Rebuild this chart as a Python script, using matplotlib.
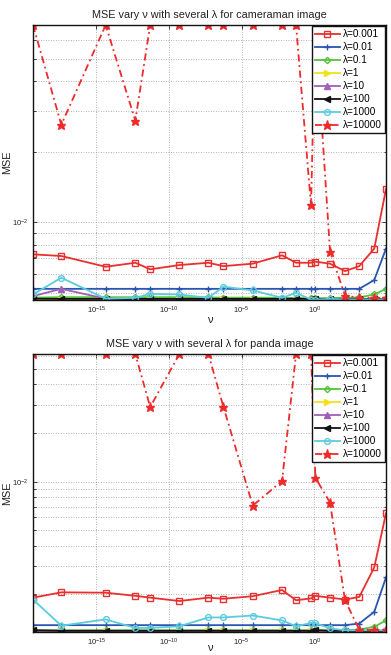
"""
MSE vs nu for several lambda values (cameraman / panda), two stacked log-log panels.
"""

import matplotlib
matplotlib.use("Agg")
import matplotlib.pyplot as plt
from matplotlib.ticker import LogLocator, NullFormatter, NullLocator, FixedLocator

plt.rcParams["font.family"] = ["Liberation Sans", "DejaVu Sans"]
plt.rcParams["mathtext.fontset"] = "custom"
plt.rcParams["mathtext.rm"] = "Liberation Sans"
plt.rcParams["mathtext.it"] = "Liberation Sans:italic"

# ===== Data =====
NU = [4.4e-20, 3.9e-18, 4.4e-15, 4.8e-13, 5.1e-12, 5.2e-10, 5.1e-8, 5.6e-7,
      5.8e-5, 6.0e-3, 5.5e-2, 0.59, 1.17, 12.0, 129.0, 1230.0, 13200.0, 85000.0]

LAMBDA_LABELS = ["λ=0.001", "λ=0.01", "λ=0.1", "λ=1", "λ=10", "λ=100", "λ=1000", "λ=10000"]

# cameraman
CAM_0001 = [0.00729, 0.00717, 0.00645, 0.00671, 0.00629, 0.00656, 0.00671, 0.00649, 0.00665,
            0.00722, 0.00671, 0.00671, 0.00678, 0.00665, 0.00618, 0.00649, 0.00771, 0.01386]
CAM_001 = [0.00519, 0.00519, 0.00519, 0.00519, 0.00519, 0.00519, 0.00519, 0.00519, 0.00519,
           0.00519, 0.00519, 0.00519, 0.00519, 0.00519, 0.00519, 0.00519, 0.00566, 0.00771]
CAM_01 = [0.00476, 0.00478, 0.00478, 0.00478, 0.00478, 0.00478, 0.00477, 0.00476, 0.00476,
          0.00475, 0.00474, 0.00473, 0.00473, 0.00474, 0.00475, 0.00477, 0.00491, 0.00519]
CAM_1 = [0.00468, 0.00467, 0.00467, 0.00467, 0.00467, 0.00467, 0.00467, 0.00467, 0.00467,
         0.00467, 0.00467, 0.00467, 0.00467, 0.00467, 0.00467, 0.00467, 0.00468, 0.00469]
CAM_10 = [0.00483, 0.00519, 0.00471, 0.00470, 0.00470, 0.00470, 0.00470, 0.00470, 0.00470,
          0.00470, 0.00470, 0.00470, 0.00470, 0.00470, 0.00470, 0.00470, 0.00470, 0.00470]
CAM_100 = [0.00471, 0.00470, 0.00470, 0.00470, 0.00470, 0.00470, 0.00470, 0.00470, 0.00470,
           0.00470, 0.00471, 0.00470, 0.00470, 0.00470, 0.00470, 0.00470, 0.00470, 0.00470]
CAM_1000 = [0.00491, 0.00579, 0.00471, 0.00475, 0.00494, 0.00491, 0.00475, 0.00530, 0.00511,
            0.00475, 0.00499, 0.00467, 0.00467, 0.00470, 0.00468, 0.00468, 0.00468, 0.00468]
CAM_10000 = [0.0697, 0.0261, 0.0697, 0.0272, 0.0697, 0.0697, 0.0697, 0.0697, 0.0697,
             0.0697, 0.0697, 0.0118, 0.0697, 0.00749, 0.00486, 0.00475, 0.00475, 0.00475]

# panda
PAN_0001 = [0.00191, 0.00206, 0.00205, 0.00196, 0.00191, 0.00182, 0.00191, 0.00188, 0.00195,
            0.00213, 0.00184, 0.00189, 0.00196, 0.00191, 0.00186, 0.00193, 0.00294, 0.00637]
PAN_001 = [0.00129, 0.00129, 0.00129, 0.00129, 0.00129, 0.00129, 0.00129, 0.00129, 0.00129,
           0.00129, 0.00129, 0.00129, 0.00129, 0.00129, 0.00129, 0.00132, 0.00156, 0.00255]
PAN_01 = [0.00120, 0.00120, 0.00120, 0.00120, 0.00120, 0.00120, 0.00120, 0.00120, 0.00120,
          0.00120, 0.00120, 0.00120, 0.00120, 0.00120, 0.00120, 0.00121, 0.00126, 0.00138]
PAN_1 = [0.00119, 0.00119, 0.00119, 0.00119, 0.00119, 0.00119, 0.00119, 0.00119, 0.00119,
         0.00119, 0.00119, 0.00119, 0.00119, 0.00119, 0.00119, 0.00119, 0.00119, 0.00119]
PAN_10 = [0.00119, 0.00119, 0.00119, 0.00119, 0.00119, 0.00119, 0.00119, 0.00119, 0.00119,
          0.00119, 0.00119, 0.00119, 0.00119, 0.00119, 0.00119, 0.00119, 0.00119, 0.00119]
PAN_100 = [0.00120, 0.00119, 0.00119, 0.00119, 0.00119, 0.00119, 0.00119, 0.00119, 0.00119,
           0.00119, 0.00119, 0.00119, 0.00120, 0.00119, 0.00119, 0.00119, 0.00119, 0.00119]
PAN_1000 = [0.00186, 0.00128, 0.00140, 0.00124, 0.00124, 0.00127, 0.00144, 0.00144, 0.00148,
            0.00138, 0.00127, 0.00133, 0.00133, 0.00123, 0.00120, 0.00120, 0.00120, 0.00120]
PAN_10000 = [0.0618, 0.0618, 0.0618, 0.0618, 0.0290, 0.0618, 0.0618, 0.0290, 0.0071,
             0.0101, 0.0618, 0.0618, 0.0106, 0.0074, 0.00184, 0.00121, 0.00120, 0.00120]

CAM_SERIES = [CAM_0001, CAM_001, CAM_01, CAM_1, CAM_10, CAM_100, CAM_1000, CAM_10000]
PAN_SERIES = [PAN_0001, PAN_001, PAN_01, PAN_1, PAN_10, PAN_100, PAN_1000, PAN_10000]

# ===== Styling =====
STYLES = [
    dict(color="#e8302e", marker="s", ls="-", mfc="none"),
    dict(color="#2a55b0", marker="+", ls="-"),
    dict(color="#55c23c", marker="D", ls="-", mfc="none", ms=3.2),
    dict(color="#f2e21c", marker=">", ls="-"),
    dict(color="#a060b8", marker="^", ls="-"),
    dict(color="#111111", marker="<", ls="-"),
    dict(color="#5ccbe0", marker="o", ls="-", mfc="none"),
    dict(color="#ee2a2a", marker="*", ls=(0, (4, 2, 1, 2)), ms=6.5),
]


def draw_panel(ax, series, title, ylim, xlabelpad=-1):
    for vals, label, st in zip(series, LAMBDA_LABELS, STYLES):
        kw = dict(lw=1.3, ms=4.2, mew=1.0)
        kw.update(st)
        ax.plot(NU, vals, label=label, **kw)

    ax.set_xscale("log")
    ax.set_yscale("log")
    ax.set_xlim(NU[0], NU[-1])
    ax.set_ylim(*ylim)

    ax.xaxis.set_major_locator(FixedLocator([1e-15, 1e-10, 1e-5, 1e0]))
    ax.xaxis.set_minor_locator(NullLocator())
    ax.yaxis.set_major_locator(LogLocator(base=10))
    ax.yaxis.set_minor_locator(LogLocator(base=10, subs=range(2, 10)))
    ax.yaxis.set_minor_formatter(NullFormatter())

    ax.grid(True, which="major", axis="x", ls=(0, (1, 2)), color="#999999", lw=0.6)
    ax.grid(True, which="both", axis="y", ls=(0, (1, 2)), color="#999999", lw=0.6)

    ax.tick_params(which="both", direction="in", top=True, right=True,
                   labelsize=5.5, colors="#222222", width=0.6)
    ax.tick_params(which="major", length=3)
    ax.tick_params(which="minor", length=1.8)
    for sp in ax.spines.values():
        sp.set_linewidth(1.0)
        sp.set_color("#111111")

    ax.set_title(title, fontsize=7.8, color="#222222", pad=5)
    ax.set_xlabel("ν", fontsize=8, color="#222222", labelpad=xlabelpad)
    ax.set_ylabel("MSE", fontsize=7.8, color="#222222")
    ax.yaxis.set_label_coords(-0.058, 0.5)

    leg = ax.legend(loc="upper right", fontsize=7.2, frameon=True, fancybox=False,
                    edgecolor="#111111", framealpha=1, borderaxespad=0.12,
                    handlelength=2.5, labelspacing=0.3, borderpad=0.3,
                    handletextpad=0.3)
    leg.get_frame().set_linewidth(1.0)


def main():
    fig = plt.figure(figsize=(3.91, 6.55), dpi=100)
    ax1 = fig.add_axes([33 / 391, 1 - 300 / 655, 353 / 391, 275 / 655])
    ax2 = fig.add_axes([33 / 391, 1 - 632 / 655, 353 / 391, 278 / 655])

    draw_panel(ax1, CAM_SERIES, "MSE vary ν with several λ for cameraman image", (0.00465, 0.0697))
    draw_panel(ax2, PAN_SERIES, "MSE vary ν with several λ for panda image", (0.00117, 0.0618),
               xlabelpad=-3.5)

    fig.savefig("out.png", dpi=100)


if __name__ == "__main__":
    main()
